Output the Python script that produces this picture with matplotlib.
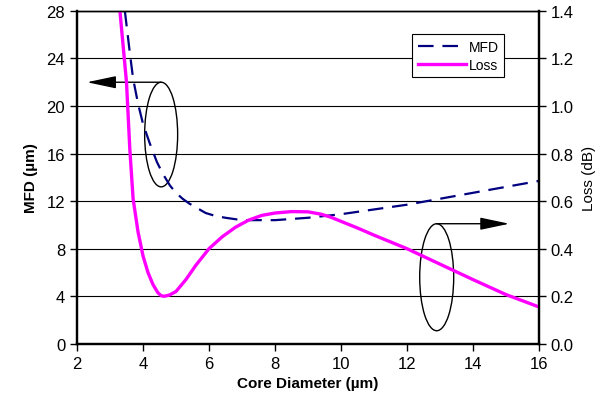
import matplotlib
matplotlib.use("Agg")
import matplotlib.pyplot as plt
from matplotlib.patches import Ellipse

plt.rcParams['font.family'] = ['Liberation Sans', 'DejaVu Sans']

# MFD (left axis, um)
mfd_x = [3.45, 3.6, 3.7, 3.85, 4.0, 4.2, 4.42, 4.6, 4.82, 5.0, 5.2, 5.4, 5.65, 5.9, 6.2,
         6.5, 7.0, 8.0, 9.0, 10.0, 11.0, 12.0, 13.0, 14.0, 15.0, 16.0]
mfd_y = [28, 24.5, 22.3, 20.2, 18.5, 16.9, 15.3, 14.3, 13.3, 12.7, 12.2, 11.8, 11.4, 11.0, 10.75,
         10.6, 10.4, 10.4, 10.6, 10.9, 11.3, 11.7, 12.2, 12.7, 13.2, 13.7]

# Loss (right axis, dB)
loss_x = [3.3, 3.4, 3.5, 3.6, 3.7, 3.85, 4.0, 4.15, 4.3, 4.45, 4.55, 4.65, 4.8, 5.0,
          5.3, 5.6, 6.0, 6.4, 6.8, 7.2, 7.6, 8.0, 8.5, 9.0, 9.4, 9.7, 10.0, 10.5,
          11.0, 12.0, 13.0, 14.0, 15.0, 16.0]
loss_y = [1.4, 1.25, 1.1, 0.82, 0.61, 0.47, 0.37, 0.30, 0.25, 0.215, 0.202, 0.2, 0.205, 0.22,
          0.27, 0.33, 0.40, 0.45, 0.49, 0.52, 0.54, 0.55, 0.556, 0.555, 0.545, 0.532, 0.515, 0.487,
          0.457, 0.40, 0.335, 0.27, 0.207, 0.155]

x_ticks = [2, 4, 6, 8, 10, 12, 14, 16]
mfd_ticks = [0, 4, 8, 12, 16, 20, 24, 28]
loss_ticks = [0.0, 0.2, 0.4, 0.6, 0.8, 1.0, 1.2, 1.4]

fig = plt.figure(figsize=(6.16, 4.10), dpi=100)
ax = fig.add_axes([0.125, 0.159, 0.75, 0.812])
ax2 = ax.twinx()

ax.set_xlim(2, 16)
ax.set_ylim(0, 28)
ax2.set_ylim(0, 1.4)
ax.set_xticks(x_ticks)
ax.set_yticks(mfd_ticks)
ax2.set_yticks(loss_ticks)
ax2.set_yticklabels([f"{v:.1f}" for v in loss_ticks])

ax.grid(axis='y', color='black', linewidth=0.8)
ax.set_axisbelow(True)

mfd_line, = ax.plot(mfd_x, mfd_y, color='#000080', linewidth=1.6, dashes=(7, 4))
loss_line, = ax2.plot(loss_x, loss_y, color='#FF00FF', linewidth=2.4,
                      solid_joinstyle='round')

for a in (ax, ax2):
    for s in a.spines.values():
        s.set_linewidth(1.6)
    a.spines['top'].set_linewidth(1.0)
    a.tick_params(direction='out', length=5, width=1, labelsize=12)

ax.set_xlabel('Core Diameter (µm)', fontsize=11, fontweight='bold', labelpad=4)
ax.set_ylabel('MFD (µm)', fontsize=11, fontweight='bold', labelpad=6)
ax2.set_ylabel('Loss (dB)', fontsize=11, labelpad=6)

# annotations: ellipses with arrows pointing to the relevant axis
arrow = dict(arrowstyle='-|>,head_length=0.9,head_width=0.19', color='black', lw=1.0,
             mutation_scale=20, shrinkA=0, shrinkB=0)
ax.add_patch(Ellipse((4.55, 17.6), 1.0, 8.8, fill=False, edgecolor='black', linewidth=1.0))
ax.annotate('', xy=(2.3, 22.0), xytext=(4.55, 22.0), arrowprops=arrow)
ax.add_patch(Ellipse((12.9, 5.6), 1.03, 9.0, fill=False, edgecolor='black', linewidth=1.0))
ax.annotate('', xy=(15.1, 10.1), xytext=(12.9, 10.1), arrowprops=arrow)

leg = ax2.legend([mfd_line, loss_line], ['MFD', 'Loss'], loc='upper left',
                 bbox_to_anchor=(0.725, 0.93), fontsize=10, fancybox=False,
                 framealpha=1, edgecolor='black', borderpad=0.4,
                 handlelength=3.5, handletextpad=0.2, labelspacing=0.3,
                 borderaxespad=0)
leg.get_frame().set_linewidth(0.8)

fig.savefig('out.png', dpi=100)
